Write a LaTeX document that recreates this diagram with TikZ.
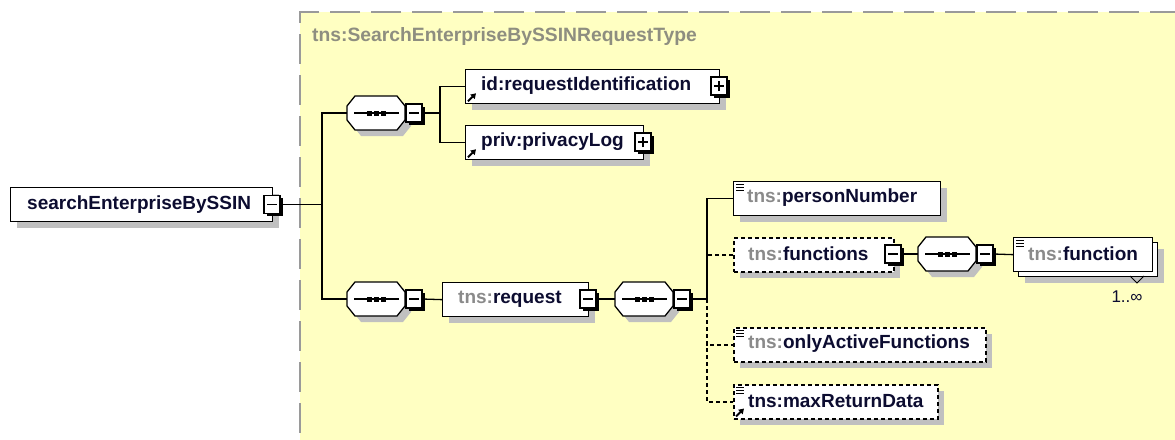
\documentclass[tikz,border=0pt]{standalone}
\usepackage{fontspec}
\setmainfont{Liberation Sans}
\usetikzlibrary{shadows,arrows.meta}
\definecolor{bgyellow}{HTML}{FFFFC2}
\definecolor{bordergray}{HTML}{9A9A9A}
\definecolor{shadowgray}{HTML}{C0C0C0}
\definecolor{nstext}{HTML}{8A8A8A}
\definecolor{nametext}{HTML}{0C0C30}
\definecolor{titlegray}{HTML}{8E8E80}
\newcommand\ns[1]{\textcolor{nstext}{#1}}
\newcommand\minussign[1]{\draw[line width=1.3pt] ([xshift=-5pt]#1.center) -- ([xshift=5pt]#1.center);}
\newcommand\plussign[1]{\draw[line width=1.3pt] ([xshift=-5pt]#1.center) -- ([xshift=5pt]#1.center);
  \draw[line width=1.3pt] ([yshift=-5pt]#1.center) -- ([yshift=5pt]#1.center);}
\newcommand\octpath{(-21,-17) -- (21,-17) -- (29,-7) -- (29,7) -- (21,17) -- (-21,17) -- (-29,7) -- (-29,-7) -- cycle}
% sequence compositor: name, x, y
\newcommand\seqnode[3]{%
  \node[minimum width=58pt, minimum height=34pt, inner sep=0pt] (#1) at (#2,#3) {};
  \fill[shadowgray, shift={(#1.center)}, xshift=6pt, yshift=-6pt] \octpath;
  \filldraw[fill=white, draw=black, line width=1.3pt, shift={(#1.center)}] \octpath;
  \draw[line width=1.6pt] ([xshift=-22pt]#1.center) -- ([xshift=23pt]#1.center);
  \foreach \dx in {-7,0,7} \fill ([xshift=\dx pt]#1.center) +(-2.5,-2.5) rectangle +(2.5,2.5);}
\newcommand\simplemark[1]{\foreach \dy in {3.5,6.5,9.5} \draw[line width=1pt] ([shift={(3,\dy)}]#1.north west) -- ++(8,0);}
\newcommand\refarrow[1]{\draw[line width=2pt,-{Triangle[length=5pt,width=6pt]}] ([shift={(3,-3)}]#1.south west) -- ++(8,-8);}
\tikzset{
  elemplain/.style={draw=black, fill=white, line width=1.3pt, inner sep=0pt, minimum height=34pt, anchor=north west},
  elembox/.style={elemplain, drop shadow={shadow xshift=6pt, shadow yshift=-6pt, fill=shadowgray, opacity=1}},
  optbox/.style={elembox, line width=1.5pt, dash pattern=on 4pt off 3pt},
  txtlbl/.style={font=\fontsize{19}{21}\selectfont\bfseries, text=nametext, inner sep=0pt, anchor=west},
  pmbox/.style={draw=black, fill=white, line width=1.2pt, minimum width=16pt, minimum height=18pt, inner sep=0pt, drop shadow={shadow xshift=2.5pt, shadow yshift=-2.5pt, fill=black, opacity=1}},
  conn/.style={line width=1.3pt},
  optconn/.style={conn, line width=1.5pt, dash pattern=on 4pt off 3pt},
}
\begin{document}
\begin{tikzpicture}[x=1pt,y=-1pt]
\useasboundingbox (0,0) rectangle (1175,439);
% background region
\fill[bgyellow] (300,12) rectangle (1180,445);
\draw[bordergray, line width=2pt, dash pattern=on 30pt off 11pt] (1180,12) -- (300,12) -- (300,445);
\node[font=\fontsize{19.3}{21}\selectfont\bfseries, text=titlegray, anchor=west, inner sep=0pt] (title) at (312,37) {tns:SearchEnterpriseBySSINRequestType};

% root
\node[elembox, minimum width=262pt] (root) at (10,187) {};
\node[txtlbl] (rootlbl) at (27,204.5) {searchEnterpriseBySSIN};
\node[pmbox] (rootpm) at (272,204.5) {}; \minussign{rootpm}

% first sequence
\seqnode{s1}{376}{113}
\node[pmbox] (s1pm) at (414,113) {}; \minussign{s1pm}

\node[elembox, minimum width=254pt] (idb) at (465,69) {};
\node[txtlbl] (idlbl) at (481,86) {id:requestIdentification};
\refarrow{idb}
\node[pmbox] (idpm) at (719,86) {}; \plussign{idpm}

\node[elembox, minimum width=178pt] (privb) at (465,125) {};
\node[txtlbl] (privlbl) at (481,142) {priv:privacyLog};
\refarrow{privb}
\node[pmbox] (privpm) at (643,142) {}; \plussign{privpm}

% second sequence
\seqnode{s2}{376}{299}
\node[pmbox] (s2pm) at (414,299) {}; \minussign{s2pm}
\node[elembox, minimum width=146pt] (req) at (442,282) {};
\node[txtlbl] (reqlbl) at (458,299) {\ns{tns:}request};
\node[pmbox] (reqpm) at (588,299) {}; \minussign{reqpm}
\seqnode{s3}{644}{299}
\node[pmbox] (s3pm) at (682,299) {}; \minussign{s3pm}

% children of request sequence
\node[elembox, minimum width=207pt] (pn) at (733,181) {};
\node[txtlbl] (pnlbl) at (747,198) {\ns{tns:}personNumber};
\simplemark{pn}

\node[optbox, minimum width=160pt] (fns) at (733,237) {};
\node[txtlbl] (fnslbl) at (748,254) {\ns{tns:}functions};
\node[pmbox] (fnspm) at (893,254) {}; \minussign{fnspm}
\seqnode{s4}{947}{254}
\node[pmbox] (s4pm) at (985,254) {}; \minussign{s4pm}
\node[elembox, minimum width=139pt] (fnback) at (1018,242) {};
\node[elemplain, minimum width=139pt] (fn) at (1013,237) {};
\node[txtlbl] (fnlbl) at (1028,254) {\ns{tns:}function};
\simplemark{fn}
\draw[line width=1pt] (1130,276) -- (1137,283) -- (1144,276);
\node[font=\fontsize{17}{18}\selectfont, text=nametext, inner sep=0pt] (occ) at (1127,297) {1..∞};

\node[optbox, minimum width=252pt] (oaf) at (733,327) {};
\node[txtlbl] (oaflbl) at (748,344) {\ns{tns:}onlyActiveFunctions};
\simplemark{oaf}

\node[optbox, minimum width=204pt] (mrd) at (733,384) {};
\node[txtlbl] (mrdlbl) at (748,401) {tns:maxReturnData};
\simplemark{mrd}\refarrow{mrd}

% connectors
\coordinate (j1) at (322,204.5);
\draw[conn] (rootpm.east) -- (j1);
\draw[conn] (s1.west) -| (j1) |- (s2.west);
\coordinate (j2) at (440,113);
\draw[conn] (s1pm.east) -- (j2);
\draw[conn] (idb.west) -| (j2) |- (privb.west);
\draw[conn] (s2pm.east) -- (req.west);
\draw[conn] (reqpm.east) -- (s3.west);
\coordinate (j3) at (707,299);
\draw[conn] (s3pm.east) -- (j3);
\draw[conn] (pn.west) -| (j3);
\draw[optconn] (fns.west) -- (fns.west -| j3);
\draw[optconn] (j3) |- (oaf.west);
\draw[optconn] (j3) |- (mrd.west);
\draw[conn] (fnspm.east) -- (s4.west);
\draw[conn] (s4pm.east) -- (fn.west);
\end{tikzpicture}
\end{document}
